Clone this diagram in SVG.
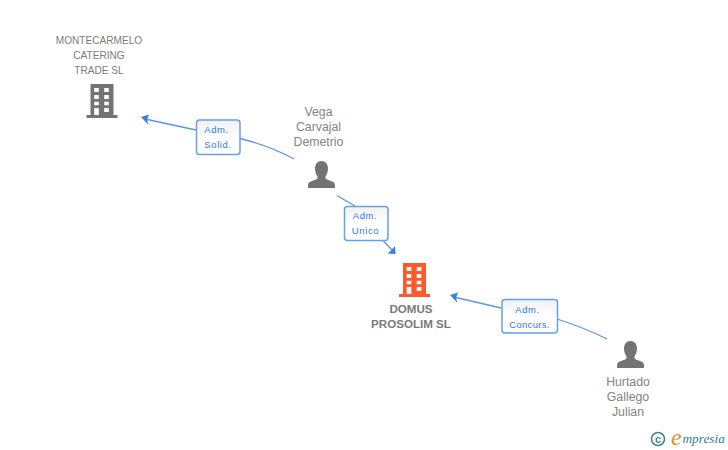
<svg xmlns="http://www.w3.org/2000/svg" xmlns:xlink="http://www.w3.org/1999/xlink" width="728" height="450" viewBox="0 0 728 450">
<style>
text{font-family:"Liberation Sans",Arial,sans-serif}
.n{font-size:12.300px;fill:#848484;text-anchor:middle}
.c{font-size:10.100px;fill:#7c7c7c;text-anchor:middle}
.b{font-size:11.600px;font-weight:bold;fill:#7a7a7a;text-anchor:middle}
.l{font-size:9.500px;fill:#2f78e6;text-anchor:middle;letter-spacing:.6px}
.e{fill:none;stroke:#5b96ea;stroke-width:1.300}
.box{fill:url(#g);stroke:#659ff0;stroke-width:1.500}
.a{fill:#3b7fe0}
</style>
<defs>
<linearGradient id="g" x1="0" y1="0" x2="0" y2="1"><stop offset="0" stop-color="#f1f1f1"/><stop offset=".5" stop-color="#fff"/></linearGradient>
<path id="bld" fill-rule="evenodd" d="M4 0H27V31H31V34H0V31H4ZM7.700 4V8H12.300V4ZM17.700 4V8H22.300V4ZM7.700 11V15H12.300V11ZM17.700 11V15H22.300V11ZM7.700 17.700V21.300H12.300V17.700ZM17.700 17.700V21.300H22.300V17.700ZM7.700 24V31H12.300V24ZM17.700 24V28H22.300V24Z"/>
<path id="psn" d="M13.500 0C17.500 0 20 3 20 7.500C20 11 18.800 13.500 17.500 15.500V17.500C19.500 19.500 24 19.800 26 21.500C27 22.500 27 25 27 27H0C0 25 0 22.500 1 21.500C3 19.800 7.500 19.500 9.500 17.500V15.500C8.200 13.500 7 11 7 7.500C7 3 9.500 0 13.500 0Z" fill="#737373"/>
</defs>
<rect width="728" height="450" fill="#fff"/>
<g id="connectors">
<path class="e" d="M294 159Q270 146 240 138.500"/><path class="e" d="M196 130L145 119"/>
<path class="a" d="M141 117L149 114.500L147 119.500L148.500 125Z"/>
<path class="e" d="M337 195.500L355 206"/><path class="e" d="M383 240.500L392 250"/>
<path class="a" d="M395.500 254L387.500 253.500L391 250.500L395 246Z"/>
<path class="e" d="M607 339Q585 328 557 319"/><path class="e" d="M501 308L454 297"/>
<path class="a" d="M450 295L458 292.500L456 297.500L457.500 303Z"/>
</g>
<g id="node-montecarmelo">
<text class="c" x="99" y="44">MONTECARMELO</text><text class="c" x="99" y="59">CATERING</text><text class="c" x="99" y="74">TRADE SL</text>
<use xlink:href="#bld" href="#bld" x="86.500" y="84" fill="#737373"/>
</g>
<g id="node-vega">
<text class="n" x="318.500" y="116">Vega</text><text class="n" x="318.500" y="131">Carvajal</text><text class="n" x="318.500" y="146">Demetrio</text>
<use xlink:href="#psn" href="#psn" x="308" y="161"/>
</g>
<g id="node-domus">
<use xlink:href="#bld" href="#bld" x="399" y="263" fill="#ff5a2b"/>
<text class="b" x="411" y="313">DOMUS</text><text class="b" x="411" y="328">PROSOLIM SL</text>
</g>
<g id="node-hurtado">
<use xlink:href="#psn" href="#psn" x="617" y="341"/>
<text class="n" x="628" y="386">Hurtado</text><text class="n" x="628" y="401">Gallego</text><text class="n" x="628" y="416">Julian</text>
</g>
<g id="label-solid">
<rect class="box" x="196.500" y="120" width="43.500" height="34.500" rx="3"/>
<text class="l" x="216.500" y="133">Adm.</text><text class="l" x="218" y="148">Solid.</text>
</g>
<g id="label-unico">
<rect class="box" x="344.500" y="206.500" width="43.500" height="34" rx="3"/>
<text class="l" x="365" y="219">Adm.</text><text class="l" x="365.500" y="234">Unico</text>
</g>
<g id="label-concurs">
<rect class="box" x="502" y="299.500" width="55.500" height="33.500" rx="3"/>
<text class="l" x="527.500" y="313">Adm.</text><text class="l" x="529.500" y="328" style="letter-spacing:.3px">Concurs.</text>
</g>
<g id="logo">
<circle cx="658" cy="439" r="6.500" fill="none" stroke="#3f8490" stroke-width="1.600"/>
<text x="658" y="442.500" font-size="11" font-weight="bold" fill="#3f8490" text-anchor="middle">c</text>
<text x="671" y="445" font-size="24" font-style="italic" fill="#f08a1d" style="font-family:'Liberation Serif',serif">e</text>
<text x="682.500" y="443" font-size="13.300" font-style="italic" fill="#2f7f8c" style="font-family:'Liberation Serif',serif">mpresia</text>
</g>
</svg>
